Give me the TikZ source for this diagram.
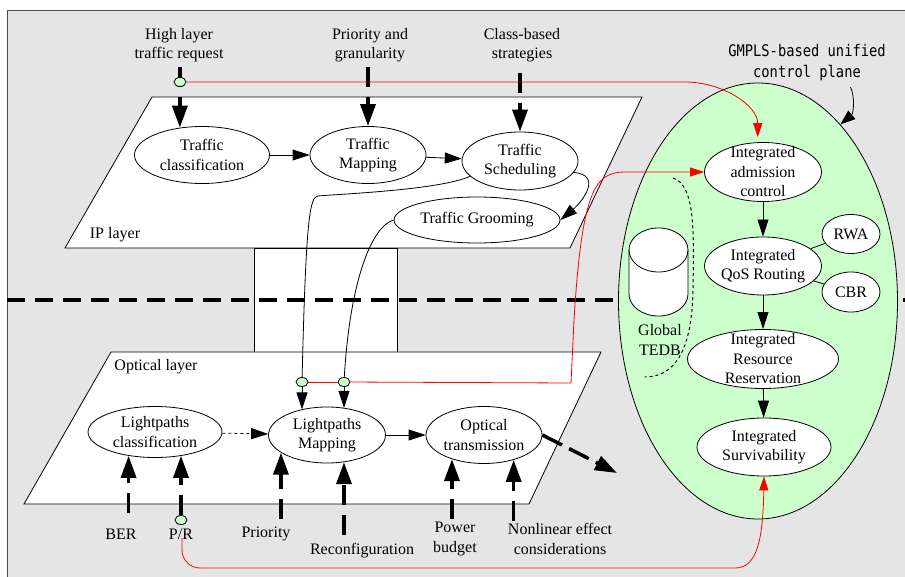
\documentclass[tikz,border=0pt]{standalone}
\usepackage{fontspec}
\setmainfont{Liberation Serif}
\newfontfamily\planefont{DejaVu Sans Mono}[FakeStretch=0.86]
\usetikzlibrary{shapes.geometric,arrows.meta}

\definecolor{planegreen}{HTML}{CCFFCC}

\tikzset{
  every node/.style={font=\fontsize{16}{19.5}\selectfont},
  proc/.style={ellipse, draw, fill=white, inner xsep=-3pt, inner ysep=-4pt, align=center},
  threeline/.style={inner ysep=-10pt},
  lbl/.style={align=center, inner sep=0pt},
  port/.style={ellipse, draw, fill=planegreen, minimum width=12pt, minimum height=9pt, inner sep=0pt},
  input/.style={line width=3.5pt, dash pattern=on 20pt off 10pt, -{Triangle[length=22pt,width=15pt]}},
  flow/.style={-{Triangle[length=17pt,width=11pt]}},
  sig/.style={red, -{Triangle[length=14pt,width=9pt]}}
}

\begin{document}
\begin{tikzpicture}[x=1pt, y=-1pt, line width=0.8pt]
  \useasboundingbox (0,0) rectangle (905,577);
  \fill[black!10] (7,10) rectangle (905,577);
  \draw[black!70] (7,577) -- (7,10) -- (905,10);

  % the two layers and the link between them
  \draw[fill=white] (152,97) -- (642,97) -- (570,248) -- (65,248) -- cycle;
  \draw[fill=white] (254,248) rectangle (397,352);
  \draw[fill=white] (111,352) -- (601,352) -- (529,504) -- (24,504) -- cycle;
  \draw[line width=3.5pt, dash pattern=on 18pt off 10pt] (7,300) -- (905,300);
  \node (iplbl) at (115,235) {IP layer};
  \node (oplbl) at (156,367) {Optical layer};

  % control plane
  \node[ellipse, draw, fill=planegreen, minimum width=279pt, minimum height=436pt, inner sep=0pt] (gm) at (758,301) {};
  \draw[fill=white] (629,250) -- (629,294) arc[start angle=180, end angle=360, x radius=29.5pt, y radius=22pt]
    -- (688,250) arc[start angle=0, end angle=180, x radius=29.5pt, y radius=22pt] -- cycle;
  \draw (629,250) arc[start angle=180, end angle=360, x radius=29.5pt, y radius=22pt];
  \node[lbl] (tedb) at (660,340) {Global\\TEDB};
  \draw[dashed, line width=1pt] (673,178) .. controls (695,185) and (694,230) .. (693,290)
    .. controls (692,350) and (675,377) .. (645,377);

  \node[lbl] (hlreq) at (179,45) {High layer\\traffic request};
  \node[lbl] (prgr) at (370,45) {Priority and\\granularity};
  \node[lbl] (cbs) at (522,45) {Class-based\\strategies};
  \node[lbl, font=\fontsize{16}{21}\planefont] (gmlbl) at (807,63) {GMPLS-based unified\\control plane};
  \node[lbl] (ber) at (121,534) {BER};
  \node[lbl] (pr) at (181,534) {P/R};
  \node[lbl] (prio) at (266,534) {Priority};
  \node[lbl] (reconf) at (362,551) {Reconfiguration};
  \node[lbl] (power) at (455,539) {Power\\budget};
  \node[lbl] (nonlin) at (560,539) {Nonlinear effect\\considerations};

  \node[proc, minimum width=135pt, minimum height=57pt] (tclass) at (202,155) {Traffic\\classification};
  \node[proc, minimum width=116pt, minimum height=57pt] (tmap) at (368,155) {Traffic\\Mapping};
  \node[proc, minimum width=116pt, minimum height=58pt] (tsched) at (520,161) {Traffic\\Scheduling};
  \node[proc, minimum width=166pt, minimum height=46pt] (tgroom) at (477,220) {Traffic Grooming};
  \node[proc, minimum width=134pt, minimum height=51pt] (lclass) at (155,432) {Lightpaths\\classification};
  \node[proc, minimum width=117pt, minimum height=56pt] (lmap) at (327,435) {Lightpaths\\Mapping};
  \node[proc, minimum width=116pt, minimum height=57pt] (otrans) at (484,435) {Optical\\transmission};
  \node[proc, threeline, minimum width=117pt, minimum height=59pt] (adm) at (763,172) {Integrated\\admission\\control};
  \node[proc, minimum width=117pt, minimum height=58pt] (qos) at (763,266) {Integrated\\QoS Routing};
  \node[proc, minimum width=58pt, minimum height=39pt] (rwa) at (851,234) {RWA};
  \node[proc, minimum width=58pt, minimum height=40pt] (cbr) at (851,292) {CBR};
  \node[proc, threeline, minimum width=151pt, minimum height=59pt] (resv) at (763,359) {Integrated\\Resource\\Reservation};
  \node[proc, minimum width=134pt, minimum height=58pt] (surv) at (764,447) {Integrated\\Survivability};

  \draw[input, shorten <=5pt] (hlreq.south -| tclass.129) -- (tclass.129);
  \draw[input, shorten <=5pt] (prgr.south -| tmap.north) -- (tmap.north);
  \draw[input, shorten <=11pt] (cbs.south -| tsched.north) -- (tsched.north);

  \node[port] (phl) at (180,82) {};
  \node[port] (pa) at (302,382) {};
  \node[port] (pb) at (344,382) {};
  \node[port] (ppr) at (181,520) {};

  \draw[input, shorten <=15pt] (ber.north -| lclass.222) -- (lclass.222);
  \draw[input] (ppr) -- (ppr |- lclass.318);
  \draw[input, shorten <=8pt] (prio.north -| lmap.201) -- (lmap.201);
  \draw[input, shorten <=8pt] (reconf.north -| lmap.302) -- (lmap.302);
  \draw[input, shorten <=3pt] (power.north -| otrans.217) -- (otrans.217);
  \draw[input, shorten <=2pt] (nonlin.north -| otrans.320) -- (otrans.320);
  \coordinate (sink) at (617,473);
  \draw[input, dash pattern=on 22pt off 8pt] (otrans.east) -- (sink);

  \draw[flow] (tclass) -- (tmap);
  \draw[flow] (tmap) -- (tsched);
  \draw[flow] (tsched.-12) to[out=-5, in=40, looseness=1.5] (tgroom.east);
  \draw (tsched.197) .. controls (440,190) and (340,194) .. (318,196) .. controls (310,197) and (306,215) .. (pa);
  \draw (tgroom.west) .. controls (372,226) and (350,280) .. (pb);
  \draw[flow] (pa) -- (pa |- lmap.135);
  \draw[flow] (pb) -- (pb |- lmap.58);
  \draw[flow, dashed] (lclass) -- (lmap);
  \draw[flow] (lmap) -- (otrans);

  \draw[flow] (adm) -- (qos);
  \draw[flow] (qos) -- (resv);
  \draw[flow] (resv) -- (surv);
  \draw (qos) -- (rwa);
  \draw (qos) -- (cbr);
  \draw[-{Triangle[length=15pt,width=11pt]}, shorten <=6pt] ([xshift=41pt]gmlbl.south) to[out=-65, in=40] (gm.65);

  % signalling towards the control plane
  \draw[sig, shorten >=5pt] (phl) -- (685,82) to[out=0, in=90] (adm.100);
  \draw[red] (pa) -- (pb);
  \draw[sig] (pb) -- (571,383) -- (574,320) .. controls (582,190) and (595,172) .. (625,172) -- (adm.west);
  \draw[sig] ([shift={(1pt,2pt)}]pr.south) -- (182,550) to[out=-90, in=180] (200,568) -- (735,568)
    .. controls (757,568) and (763,540) .. (surv.south);
\end{tikzpicture}
\end{document}
